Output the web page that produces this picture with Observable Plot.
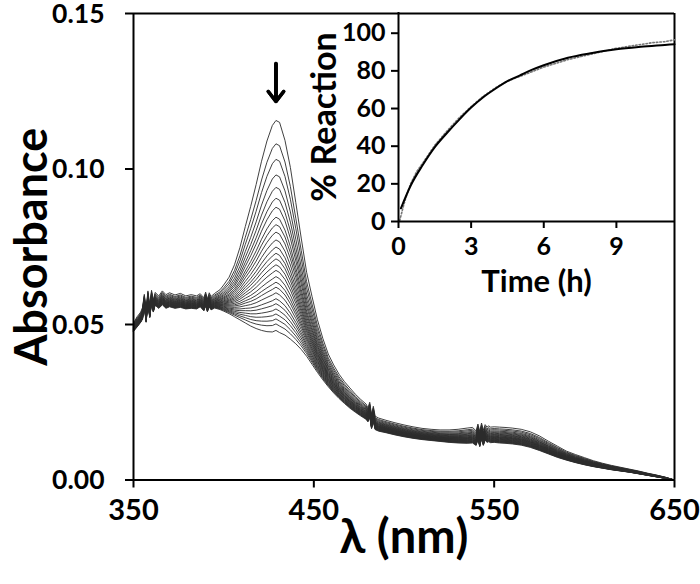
<!DOCTYPE html>
<html>
<head>
<meta charset="utf-8">
<script src="https://cdn.jsdelivr.net/npm/d3@7"></script>
<script src="https://cdn.jsdelivr.net/npm/@observablehq/plot@0.6"></script>
<style>
  html, body { margin: 0; padding: 0; background: #fff; }
  #wrap { position: relative; width: 700px; height: 584px; overflow: hidden; }
  #wrap svg { position: absolute; display: block; }
</style>
</head>
<body>
<div id="wrap"></div>
<script>
// ---- Main panel: UV-vis spectra ----
const wavelengths = [
  350,352,354,355,356,357,358,359,360,361,
  362,364,366,368,370,373,376,379,382,385,
  387,389,390,391,392,393,395,398,400,403,
  406,409,412,415,418,421,424,427,429,431,
  434,437,440,443,446,449,452,455,458,461,
  464,467,470,473,476,479,480,481,482,483,
  484,486,490,495,500,505,510,515,520,525,
  530,535,538,540,541,542,543,544,545,546,
  547,548,550,553,556,560,565,570,575,580,
  585,590,595,600,605,610,615,620,625,630,
  635,640,645,650
];
// first (top) spectrum
const startAbs = [
  .0505,.0525,.0540,.0555,.0597,.0548,.0608,.0562,.0610,.0578,
  .0603,.0592,.0608,.0596,.0602,.0595,.0600,.0592,.0596,.0592,
  .0599,.0586,.0604,.0582,.0602,.0590,.0600,.0612,.0627,.0652,
  .0692,.0747,.0815,.0880,.0950,.1025,.1090,.1140,.1156,.1150,
  .1092,.1005,.0892,.0778,.0668,.0590,.0515,.0455,.0405,.0370,
  .0340,.0316,.0296,.0276,.0259,.0244,.0232,.0250,.0210,.0237,
  .0205,.0199,.0192,.0184,.0177,.0171,.0166,.0163,.0161,.0161,
  .0163,.0167,.0169,.0158,.0180,.0156,.0183,.0160,.0178,.0170,
  .0174,.0170,.0171,.0170,.0169,.0167,.0163,.0155,.0142,.0125,
  .0109,.0093,.0082,.0072,.0062,.0054,.0047,.0041,.0035,.0029,
  .0022,.0016,.0009,.0000
];
// last (bottom) spectrum
const endAbs = [
  .0478,.0492,.0507,.0517,.0559,.0507,.0569,.0522,.0569,.0540,
  .0562,.0552,.0563,.0552,.0557,.0552,.0555,.0550,.0552,.0550,
  .0557,.0544,.0560,.0541,.0557,.0547,.0553,.0548,.0543,.0535,
  .0525,.0515,.0505,.0495,.0487,.0481,.0477,.0476,.0481,.0474,
  .0466,.0453,.0438,.0420,.0398,.0372,.0346,.0322,.0300,.0280,
  .0262,.0246,.0231,.0218,.0206,.0195,.0187,.0204,.0165,.0189,
  .0162,.0157,.0152,.0145,.0139,.0134,.0130,.0127,.0124,.0121,
  .0119,.0118,.0119,.0111,.0131,.0107,.0133,.0111,.0129,.0121,
  .0123,.0120,.0121,.0119,.0118,.0116,.0112,.0105,.0095,.0084,
  .0073,.0064,.0056,.0049,.0043,.0038,.0033,.0029,.0025,.0020,
  .0015,.0010,.0005,.0000
];
// absorbance at the 429 nm maximum, one per recorded spectrum (top to bottom)
const peakAbs = [
  0.1156,0.1081,0.1031,0.0981,0.0941,0.0906,0.0877,0.0845,0.0821,
  0.0797,0.0772,0.0749,0.0729,0.0711,0.0692,0.0674,0.0654,0.0636,
  0.0620,0.0602,0.0583,0.0567,0.0550,0.0534,0.0518,0.0502,0.0481
];
const peakNm = 429;
const xTicks = [350, 450, 550, 650];
const yTicks = [0, 0.05, 0.10, 0.15];
const arrowMark = [{nm: 429, from: 0.1339, to: 0.1226, head: 0.1217}];

// ---- Inset: kinetics ----
const fitTime = [0.1,0.5,1,1.5,2,2.5,3,3.5,4,4.5,5,5.5,6,7,8,9,10,11,11.4];
const fitPct  = [7,19,30,39.5,47,54,60.5,66,70.5,74.5,77.5,80.5,83,87,89.5,91.5,92.8,93.8,94.2];
const dataTime = [0.05,0.1,0.2,0.3,0.5,0.75,1,1.5,2,2.5,3,3.5,4,4.5,5,5.5,6,6.5,7,7.5,8,8.5,9,9.5,10,10.5,11,11.4];
const dataPct  = [0.5,3,8,12.5,20,26.5,31,40.5,48,55,61,66.5,71,74.5,77,79.5,82,84,86,87.5,89,90.5,92,93,94,95,95.5,96.5];
const insetXTicks = [0, 3, 6, 9];
const insetYTicks = [0, 20, 40, 60, 80, 100];

// build spectra table (each spectrum between the first and last recorded one)
const iPk = wavelengths.indexOf(peakNm);
const sPk = startAbs[iPk], ePk = endAbs[iPk];
const specRows = [];
peakAbs.forEach((p, k) => {
  const f = (p - ePk) / (sPk - ePk);
  wavelengths.forEach((w, j) => {
    specRows.push({curve: k, nm: w, abs: endAbs[j] + f * (startAbs[j] - endAbs[j])});
  });
});
const fitRows = fitTime.map((t, i) => ({t, p: fitPct[i]}));
const dataRows = dataTime.map((t, i) => ({t, p: dataPct[i]}));

const FONT = "Lato, 'Open Sans', sans-serif";

const main = Plot.plot({
  width: 700, height: 584,
  marginLeft: 133, marginRight: 26, marginTop: 13, marginBottom: 104.5,
  style: {fontFamily: FONT, background: "transparent", color: "#000"},
  x: {domain: [350, 650]},
  y: {domain: [0, 0.15]},
  marks: [
    Plot.line(specRows, {x: "nm", y: "abs", z: "curve", stroke: "#2b2b2b", strokeWidth: 0.9}),
    Plot.ruleX([350, 650], {stroke: "#000", strokeWidth: 2}),
    Plot.ruleY([0, 0.15], {stroke: "#000", strokeWidth: 2}),
    Plot.axisX(xTicks, {tickSize: 8, tickPadding: 11, fontSize: 29, fontWeight: "bold", strokeWidth: 2, label: null, tickFormat: d => String(d)}),
    Plot.axisY(yTicks, {tickSize: 8, strokeWidth: 2, label: null, text: null}),
    Plot.axisY(yTicks, {tickSize: 8, tickPadding: 21, dy: 1, fontSize: 26.5, fontWeight: "bold", label: null, tickFormat: d3.format(".2f"), stroke: "none"}),
    Plot.link(arrowMark, {x1: "nm", x2: "nm", y1: "from", y2: "to", stroke: "#000", strokeWidth: 3.5}),
    Plot.arrow(arrowMark, {x1: "nm", x2: "nm", y1: "from", y2: "head", stroke: "#000", strokeWidth: 3.5, headLength: 12, headAngle: 75}),
    Plot.arrow(arrowMark, {x1: "nm", x2: "nm", y1: "from", y2: "head", stroke: "#000", strokeWidth: 3.5, headLength: 6, headAngle: 75}),
    Plot.text(["Absorbance"], {text: d => d, frameAnchor: "left", dx: -101, rotate: -90, textAnchor: "middle", lineAnchor: "middle", fontSize: 45, fontWeight: "bold"}),
    Plot.text(["λ (nm)"], {text: d => d, frameAnchor: "bottom", dy: 58, textAnchor: "middle", lineAnchor: "middle", fontSize: 47, fontWeight: "bold"})
  ]
});
main.style.left = "0px"; main.style.top = "0px";

const inset = Plot.plot({
  width: 410, height: 310,
  marginLeft: 108, marginRight: 26, marginTop: 12, marginBottom: 89,
  style: {fontFamily: FONT, background: "transparent", color: "#000"},
  x: {domain: [0, 11.4]},
  y: {domain: [0, 111]},
  marks: [
    Plot.line(dataRows, {x: "t", y: "p", stroke: "#777", strokeWidth: 1.6, strokeDasharray: "1.5,2"}),
    Plot.line(fitRows, {x: "t", y: "p", stroke: "#000", strokeWidth: 2, curve: "monotone-x"}),
    Plot.ruleX([0], {stroke: "#000", strokeWidth: 2}),
    Plot.ruleY([0], {stroke: "#000", strokeWidth: 2}),
    Plot.axisX(insetXTicks, {tickSize: 7, tickPadding: 9, fontSize: 25, fontWeight: "bold", strokeWidth: 2, label: null}),
    Plot.axisY(insetYTicks, {tickSize: 7, tickPadding: 6, fontSize: 25, fontWeight: "bold", strokeWidth: 2, label: null}),
    Plot.text(["% Reaction"], {text: d => d, frameAnchor: "left", dx: -73, rotate: -90, textAnchor: "middle", lineAnchor: "middle", fontSize: 34, fontWeight: "bold"}),
    Plot.text(["Time (h)"], {text: d => d, frameAnchor: "bottom", dy: 61, textAnchor: "middle", lineAnchor: "middle", fontSize: 31, fontWeight: "bold"})
  ]
});
inset.style.left = "290px"; inset.style.top = "0px";

const wrap = document.getElementById("wrap");
wrap.appendChild(main);
wrap.appendChild(inset);
</script>
</body>
</html>
